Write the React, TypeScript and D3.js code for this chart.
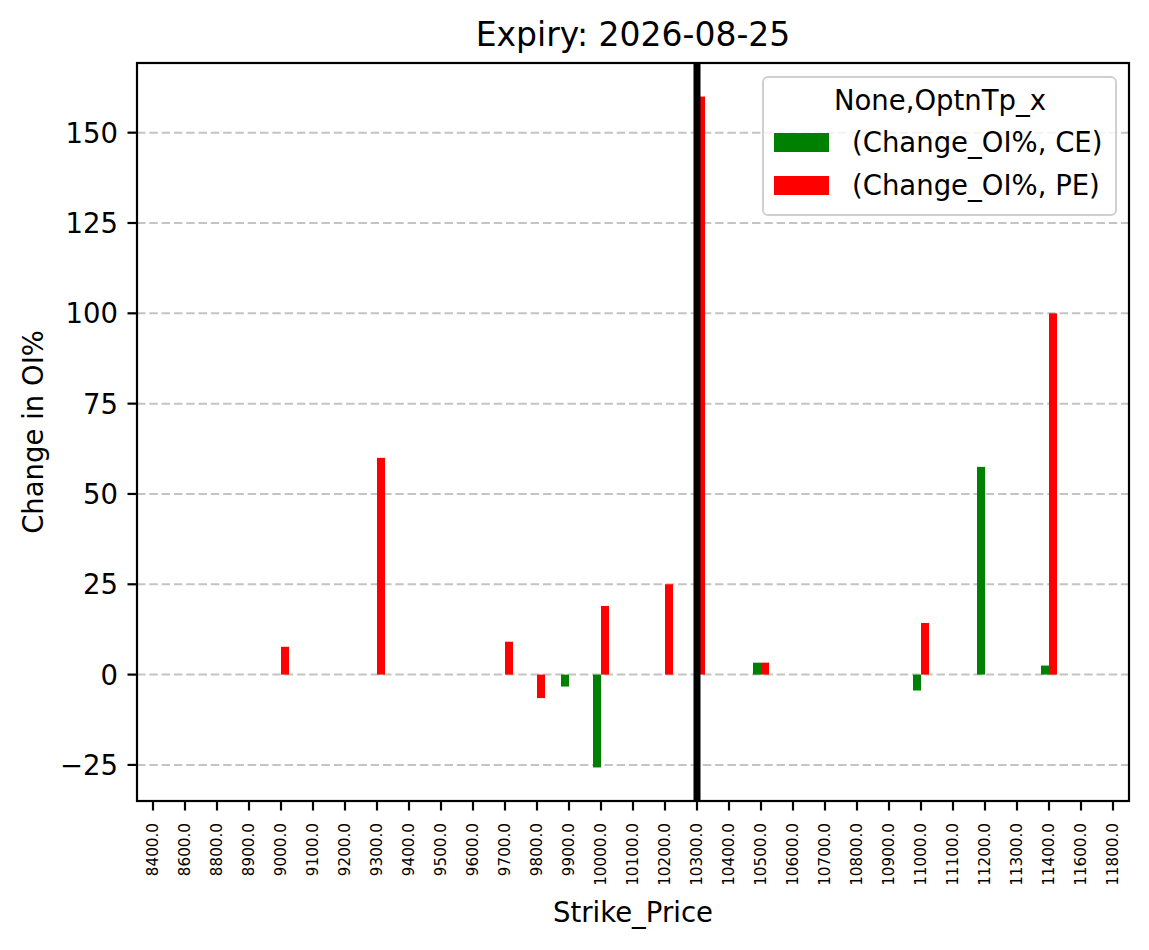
import * as d3 from 'd3';
import React from 'react';

// strike prices shown on the x axis (categorical)
const strikes = [
  8400, 8600, 8800, 8900, 9000, 9100, 9200, 9300, 9400, 9500, 9600, 9700,
  9800, 9900, 10000, 10100, 10200, 10300, 10400, 10500, 10600, 10700, 10800,
  10900, 11000, 11100, 11200, 11300, 11400, 11600, 11800
];

// Change_OI% per option type, null = no bar
const ceValues: (number | null)[] = [
  null, null, null, null, null, null, null, null, null, null, null, null,
  null, -3.3, -25.7, null, null, null, null, 3.3, null, null, null,
  null, -4.4, null, 57.5, null, 2.5, null, null
];
const peValues: (number | null)[] = [
  null, null, null, null, 7.7, null, null, 60, null, null, null, 9.1,
  -6.5, null, 19, null, 25, 160, null, 3.3, null, null, null,
  null, 14.3, null, null, null, 100, null, null
];

const yTicks = [-25, 0, 25, 50, 75, 100, 125, 150];
const spotStrike = 10300;

const seriesNames = ['(Change_OI%, CE)', '(Change_OI%, PE)'];
const seriesColors = ['#008000', '#ff0000'];

const width = 1149;
const height = 950;
const margin = { top: 63, right: 20, bottom: 149, left: 137 };
const font = '"DejaVu Sans", sans-serif';
const fs = 27.5;

export default function App() {
  const x = d3
    .scaleLinear()
    .domain([-0.5, strikes.length - 0.5])
    .range([margin.left, width - margin.right]);

  // matplotlib style auto limits (5% padding)
  const allVals = [...ceValues, ...peValues].filter((v) => v !== null) as number[];
  const lo = Math.min(0, d3.min(allVals)!);
  const hi = d3.max(allVals)!;
  const pad = (hi - lo) * 0.05;
  const y = d3
    .scaleLinear()
    .domain([lo - pad, hi + pad])
    .range([height - margin.bottom, margin.top]);

  const step = x(1) - x(0);
  const barW = step * 0.25;
  const plotL = margin.left;
  const plotR = width - margin.right;
  const plotT = margin.top;
  const plotB = height - margin.bottom;

  const bars: { x: number; y: number; h: number; color: string; key: string }[] = [];
  [ceValues, peValues].forEach((vals, s) => {
    vals.forEach((v, i) => {
      if (v === null) return;
      const x0 = x(i) + (s === 0 ? -barW : 0);
      bars.push({
        x: x0,
        y: y(Math.max(0, v)),
        h: Math.abs(y(v) - y(0)),
        color: seriesColors[s],
        key: `${s}-${i}`
      });
    });
  });

  const spotX = x(strikes.indexOf(spotStrike));

  const legX = 763;
  const legY = 77;

  return (
    <svg
      width={width}
      height={height}
      style={{ position: 'absolute', left: 0, top: 0, background: '#fff' }}
      fontFamily={font}
    >
      <rect x={0} y={0} width={width} height={height} fill="#fff" />
      {/* grid */}
      {yTicks.map((t) => (
        <line
          key={`g${t}`}
          x1={plotL}
          x2={plotR}
          y1={y(t)}
          y2={y(t)}
          stroke="#c4c4c4"
          strokeWidth={2}
          strokeDasharray="8.5,3.8"
        />
      ))}
      {/* bars */}
      {bars.map((b) => (
        <rect key={b.key} x={b.x} y={b.y} width={barW} height={b.h} fill={b.color} />
      ))}
      {/* spot line */}
      <line x1={spotX} x2={spotX} y1={plotT} y2={plotB} stroke="#000" strokeWidth={7} />
      {/* spines */}
      <rect
        x={plotL}
        y={plotT}
        width={plotR - plotL}
        height={plotB - plotT}
        fill="none"
        stroke="#000"
        strokeWidth={2.2}
      />
      {/* y axis */}
      {yTicks.map((t) => (
        <g key={`y${t}`}>
          <line x1={plotL - 9.5} x2={plotL} y1={y(t)} y2={y(t)} stroke="#000" strokeWidth={2.2} />
          <text
            x={plotL - 19}
            y={y(t)}
            dy="0.36em"
            textAnchor="end"
            fontSize={fs}
            fill="#000"
          >
            {t < 0 ? `\u2212${Math.abs(t)}` : t}
          </text>
        </g>
      ))}
      {/* x axis */}
      {strikes.map((s, i) => (
        <g key={`x${s}`}>
          <line x1={x(i)} x2={x(i)} y1={plotB} y2={plotB + 9.5} stroke="#000" strokeWidth={2.2} />
          <text
            transform={`translate(${x(i)},${plotB + 22}) rotate(-90)`}
            dy="0.36em"
            textAnchor="end"
            fontSize={15.2}
            fill="#000"
          >
            {s.toFixed(1)}
          </text>
        </g>
      ))}
      {/* labels */}
      <text x={(plotL + plotR) / 2} y={46} textAnchor="middle" fontSize={33} fill="#000">
        Expiry: 2026-08-25
      </text>
      <text x={(plotL + plotR) / 2} y={922} textAnchor="middle" fontSize={fs} fill="#000">
        Strike_Price
      </text>
      <text
        transform={`translate(43,${(plotT + plotB) / 2}) rotate(-90)`}
        textAnchor="middle"
        fontSize={fs}
        fill="#000"
      >
        Change in OI%
      </text>
      {/* legend */}
      <rect
        x={legX}
        y={legY}
        width={353}
        height={138}
        rx={5}
        fill="#fff"
        fillOpacity={0.8}
        stroke="#d0d0d0"
        strokeWidth={2}
      />
      <text x={legX + 177} y={110} textAnchor="middle" fontSize={fs} fill="#000">
        None,OptnTp_x
      </text>
      {seriesNames.map((n, i) => (
        <g key={n}>
          <rect x={774} y={133 + i * 43} width={55} height={19} fill={seriesColors[i]} />
          <text x={852} y={152 + i * 43} fontSize={fs} fill="#000">
            {n}
          </text>
        </g>
      ))}
    </svg>
  );
}
